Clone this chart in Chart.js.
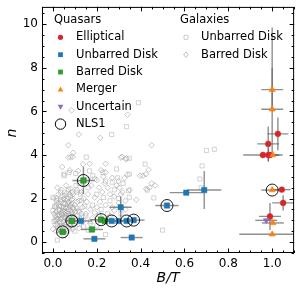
<!DOCTYPE html>
<html><head><meta charset="utf-8">
<script src="https://cdn.jsdelivr.net/npm/chart.js@4.4.0/dist/chart.umd.min.js"></script>
<style>html,body{margin:0;padding:0;background:#fff;}#c{display:block;}</style>
</head><body>
<canvas id="c" width="301" height="291"></canvas>
<script>
// ---- Data ----
const xTicks = [0.0, 0.2, 0.4, 0.6, 0.8, 1.0];
const yTicks = [0, 2, 4, 6, 8, 10];

// Galaxies: unbarred disks (squares)
const galUnbarredX = [0.39,0.335,0.268,0.70,0.736,0.68,0.67,0.676,0.5,0.46,0.42,0.348,0.348,0.228,0.152,0.167,0.05,0.104,0.182,0.119,0.29,0.295,0.43,0.345,0.348,0.02,0.0,0.074,0.051,
 0.01,0.02,0.03,0.04,0.05,0.06,0.07,0.08,0.09,0.1,0.11,0.12,0.13,0.15,0.16,0.18,0.2,0.22,0.24,0.26,0.28,0.3,0.32,0.025,0.035,0.045,0.055,0.065,0.075,0.085,0.095,0.105,0.115,0.125,0.14,0.17,0.19,0.21,0.23,0.25,0.27,0.015,0.04,0.06,0.08,0.1,0.12,0.03,0.05,0.07,0.09,0.11,0.13,0.145,0.0,0.005,0.018,0.24,0.31,0.2,0.16,
 0.008,0.028,0.038,0.048,0.058,0.068,0.078,0.088,0.035,0.065,0.015,0.055];
const galUnbarredY = [6.4,5.3,4.94,4.21,4.26,3.5,2.9,2.5,0.55,2.03,3.58,3.85,3.12,3.2,3.9,3.27,3.12,3.15,3.05,2.7,3.36,2.95,2.39,2.36,2.06,0.09,2.06,3.2,3.05,
 1.2,0.8,1.5,1.1,1.8,0.9,1.3,2.1,1.6,1.1,2.3,1.4,1.9,1.2,2.5,1.7,2.2,1.5,2.8,1.9,2.4,2.0,2.7,0.55,2.3,0.7,1.4,2.0,0.6,1.75,0.85,2.6,1.0,2.2,0.7,0.95,2.9,1.25,2.05,1.3,2.75,1.7,1.35,1.6,1.0,0.5,0.8,0.95,0.3,2.4,1.25,1.55,1.15,1.65,1.45,0.95,1.9,0.35,1.3,0.75,0.55,
 1.65,1.25,0.75,1.6,1.15,1.75,0.85,2.3,1.95,0.5,1.05,2.15];

// Galaxies: barred disks (diamonds)
const galBarredX = [0.085,0.34,0.118,0.216,0.07,0.45,0.315,0.335,0.436,0.424,0.41,0.397,0.326,0.24,0.092,0.08,0.09,0.07,0.137,0.115,0.077,0.042,0.167,0.31,0.333,0.45,0.466,0.303,0.317,0.22,0.23,0.235,0.16,0.38,0.425,0.44,
 0.01,0.015,0.02,0.025,0.03,0.035,0.04,0.045,0.05,0.055,0.06,0.065,0.07,0.075,0.08,0.085,0.09,0.095,0.1,0.105,0.11,0.115,0.12,0.125,0.13,0.135,0.14,0.15,0.155,0.16,0.17,0.175,0.18,0.19,0.2,0.21,0.215,0.225,0.24,0.25,0.26,0.27,0.28,0.29,0.3,0.31,0.33,0.35,0.02,0.03,0.04,0.05,0.06,0.07,0.08,0.09,0.1,0.11,0.12,0.13,0.04,0.06,0.08,0.025,0.01,0.0,0.015,0.045,0.055,0.065,0.075,0.085,0.095,0.035,0.05,0.14,0.17,0.19,0.22,0.26,0.28,0.33,0.005,0.02,0.15,0.2,0.24,0.27,0.3,0.34,
 0.005,0.012,0.022,0.028,0.038,0.048,0.058,0.068,0.078,0.088,0.098,0.018,0.032,0.052,0.062,0.072,0.082,0.092,0.042,0.108];
const galBarredY = [6.05,5.85,4.94,4.79,4.45,4.45,3.92,3.85,3.32,3.12,3.05,3.05,2.94,3.6,4.1,3.9,3.92,3.88,3.58,3.27,3.3,3.45,3.6,3.88,3.8,2.7,2.6,2.5,2.3,3.3,3.0,2.7,2.9,1.95,2.45,2.5,
 1.0,1.4,0.7,1.8,1.2,0.9,1.6,2.1,1.3,0.8,1.9,1.1,1.5,2.2,0.75,1.35,2.0,1.15,1.7,0.95,2.4,1.45,1.9,1.05,2.3,1.6,2.0,1.3,1.85,2.2,1.5,2.6,1.1,2.05,1.6,2.5,1.85,2.3,1.7,2.5,2.2,1.6,2.1,2.6,1.8,2.2,1.9,2.4,1.25,1.65,0.55,2.0,1.25,0.95,1.7,0.6,1.4,1.85,0.65,1.3,2.4,2.6,2.45,2.2,1.6,0.6,0.5,1.45,1.75,1.4,1.2,1.95,1.5,1.05,0.45,1.0,0.85,1.35,1.1,1.2,1.45,1.5,2.0,2.5,2.7,2.85,3.2,2.95,2.8,3.1,
 1.3,0.8,1.05,1.45,1.85,0.95,1.55,0.7,1.65,1.15,0.8,2.0,0.65,1.15,2.25,1.85,1.45,2.2,1.25,1.2];

// Quasars
const ellX = [0.958,0.983,0.99,0.982,1.026,1.044,1.05,0.99];
const ellY = [4.0,4.0,4.0,4.51,4.97,2.41,1.8,1.18];
const ellXerr = [0.09,0.04,0.04,0.05,0.048,0.04,0.05,0.05];
const ellYerr = [0.0,0.3,0.0,0.8,0.75,0.0,0.35,0.62];

const unbX = [0.128,0.309,0.268,0.299,0.336,0.368,0.189,0.359,0.52,0.608,0.69];
const unbY = [0.97,1.6,0.97,0.97,0.97,1.01,0.15,0.21,1.68,2.27,2.39];
const unbXerr = [0.05,0.05,0.05,0.04,0.04,0.05,0.05,0.05,0.053,0.075,0.078];
const unbYerr = [0,0.47,0,0,0,0,0,0,0,0,0.87];

const barX = [0.139,0.086,0.22,0.237,0.178,0.044];
const barY = [2.83,0.97,1.03,0.97,0.58,0.47];
const barXerr = [0.05,0.03,0.05,0.04,0.05,0.02];
const barYerr = [0.62,0,0,0,0,0];

const merX = [1.0,1.0,1.003,1.0,1.003,1.0];
const merY = [7.0,6.1,4.0,2.39,0.88,0.36];
const merXerrLo = [0.05,0.05,0.03,0.05,0.05,0.15];
const merXerrHi = [0.05,0.05,0.03,0.05,0.05,0.12];
const merYerrLo = [1.0,2.1,0,0,0,0];
const merYerrHi = [1.0,3.75,0,0,0,0];

const uncX = [0.973];
const uncY = [1.0];
const uncXerr = [0.05];
const uncYerr = [0];

const nlsX = [0.139,0.086,0.044,0.22,0.268,0.336,0.368,0.52,1.0];
const nlsY = [2.83,0.97,0.47,1.03,0.97,0.97,1.01,1.68,2.39];

// ---- helpers ----
const pts = (xs, ys) => xs.map((x, i) => ({x: x, y: ys[i]}));
const FONT = "'DejaVu Sans', sans-serif";
const RED = '#d62728', BLUE = '#1f77b4', GREEN = '#2ca02c', ORANGE = '#ff7f0e', PURPLE = '#9467bd';
const GALSQ = 'rgba(165,165,165,0.6)';
const GALDI = 'rgba(140,140,140,0.6)';

const errSets = [
  {x: ellX, y: ellY, xl: ellXerr, xh: ellXerr, yl: ellYerr, yh: ellYerr},
  {x: unbX, y: unbY, xl: unbXerr, xh: unbXerr, yl: unbYerr, yh: unbYerr},
  {x: barX, y: barY, xl: barXerr, xh: barXerr, yl: barYerr, yh: barYerr},
  {x: merX, y: merY, xl: merXerrLo, xh: merXerrHi, yl: merYerrLo, yh: merYerrHi},
  {x: uncX, y: uncY, xl: uncXerr, xh: uncXerr, yl: uncYerr, yh: uncYerr}
];

const errorBarPlugin = {
  id: 'errbars',
  afterDatasetDraw(chart, args) {
    if (chart.data.datasets[args.index].label !== 'galUnbarred') return;
    const xs = chart.scales.x, ys = chart.scales.y, ctx = chart.ctx;
    ctx.save();
    ctx.beginPath();
    ctx.rect(chart.chartArea.left, chart.chartArea.top, chart.chartArea.right - chart.chartArea.left, chart.chartArea.bottom - chart.chartArea.top);
    ctx.clip();
    ctx.strokeStyle = 'rgba(105,105,105,0.75)';
    ctx.lineWidth = 1.4;
    errSets.forEach(s => {
      s.x.forEach((x, i) => {
        const y = s.y[i];
        ctx.beginPath();
        if (s.xl[i] || s.xh[i]) {
          ctx.moveTo(xs.getPixelForValue(x - s.xl[i]), ys.getPixelForValue(y));
          ctx.lineTo(xs.getPixelForValue(x + s.xh[i]), ys.getPixelForValue(y));
        }
        if (s.yl[i] || s.yh[i]) {
          ctx.moveTo(xs.getPixelForValue(x), ys.getPixelForValue(y - s.yl[i]));
          ctx.lineTo(xs.getPixelForValue(x), ys.getPixelForValue(y + s.yh[i]));
        }
        ctx.stroke();
      });
    });
    ctx.restore();
  }
};

const framePlugin = {
  id: 'frame',
  afterDraw(chart) {
    const ctx = chart.ctx, a = chart.chartArea, xs = chart.scales.x, ys = chart.scales.y;
    ctx.save();
    ctx.strokeStyle = '#000';
    ctx.lineWidth = 1;
    ctx.strokeRect(a.left + 0.5, a.top + 0.5, a.right - a.left - 1, a.bottom - a.top - 1);
    const tick = (len, val, axis) => {
      ctx.beginPath();
      if (axis === 'x') {
        const p = Math.round(xs.getPixelForValue(val)) + 0.5;
        ctx.moveTo(p, a.bottom); ctx.lineTo(p, a.bottom - len);
        ctx.moveTo(p, a.top); ctx.lineTo(p, a.top + len);
      } else {
        const p = Math.round(ys.getPixelForValue(val)) + 0.5;
        ctx.moveTo(a.left, p); ctx.lineTo(a.left + len, p);
        ctx.moveTo(a.right, p); ctx.lineTo(a.right - len, p);
      }
      ctx.stroke();
    };
    for (let k = -1; k <= 22; k++) { const v = k * 0.05; if (v >= xs.min && v <= xs.max) tick(2.5, v, 'x'); }
    for (let k = -1; k <= 21; k++) { const v = k * 0.5; if (v >= ys.min && v <= ys.max) tick(2.5, v, 'y'); }
    xTicks.forEach(v => tick(4.5, v, 'x'));
    yTicks.forEach(v => tick(4.5, v, 'y'));

    ctx.fillStyle = '#000';
    ctx.font = "italic 14px " + FONT;
    ctx.textAlign = 'center';
    ctx.textBaseline = 'middle';
    ctx.fillText('B/T', (a.left + a.right) / 2, 278);
    ctx.save();
    ctx.translate(12, 133);
    ctx.rotate(-Math.PI / 2);
    ctx.fillText('n', 0, 0);
    ctx.restore();

    const rowsQ = [
      {t: 'Elliptical', s: 'circle', c: RED},
      {t: 'Unbarred Disk', s: 'rect', c: BLUE},
      {t: 'Barred Disk', s: 'rect', c: GREEN},
      {t: 'Merger', s: 'triangle', c: ORANGE},
      {t: 'Uncertain', s: 'tridown', c: PURPLE},
      {t: 'NLS1', s: 'ring', c: '#000'}
    ];
    const rowsG = [
      {t: 'Unbarred Disk', s: 'hrect', c: GALSQ},
      {t: 'Barred Disk', s: 'hdiam', c: GALDI}
    ];
    const dy = 17.35, y0 = 20;
    ctx.font = "11.5px " + FONT;
    ctx.textAlign = 'left';
    ctx.fillStyle = '#000';
    ctx.fillText('Quasars', 54, y0);
    ctx.fillText('Galaxies', 180, y0);
    const marker = (s, c, x, y) => {
      ctx.beginPath();
      ctx.fillStyle = c; ctx.strokeStyle = c;
      if (s === 'circle') { ctx.arc(x, y, 2.6, 0, Math.PI * 2); ctx.fill(); }
      else if (s === 'rect') { ctx.rect(x - 2.4, y - 2.4, 4.8, 4.8); ctx.fill(); }
      else if (s === 'triangle') { ctx.moveTo(x, y - 3); ctx.lineTo(x + 2.8, y + 2); ctx.lineTo(x - 2.8, y + 2); ctx.closePath(); ctx.fill(); }
      else if (s === 'tridown') { ctx.moveTo(x, y + 3); ctx.lineTo(x + 2.8, y - 2); ctx.lineTo(x - 2.8, y - 2); ctx.closePath(); ctx.fill(); }
      else if (s === 'ring') { ctx.lineWidth = 1; ctx.arc(x, y, 5.2, 0, Math.PI * 2); ctx.stroke(); }
      else if (s === 'hrect') { ctx.lineWidth = 0.9; ctx.rect(x - 2, y - 2, 4, 4); ctx.stroke(); }
      else if (s === 'hdiam') { ctx.lineWidth = 0.9; ctx.moveTo(x, y - 2.8); ctx.lineTo(x + 2.3, y); ctx.lineTo(x, y + 2.8); ctx.lineTo(x - 2.3, y); ctx.closePath(); ctx.stroke(); }
    };
    rowsQ.forEach((r, i) => {
      const y = y0 + dy * (i + 1);
      marker(r.s, r.c, 60.5, y);
      ctx.fillStyle = '#000';
      ctx.fillText(r.t, 76, y);
    });
    rowsG.forEach((r, i) => {
      const y = y0 + dy * (i + 1);
      marker(r.s, r.c, 186, y);
      ctx.fillStyle = '#000';
      ctx.fillText(r.t, 201, y);
    });
    ctx.restore();
  }
};

new Chart(document.getElementById('c'), {
  type: 'scatter',
  data: {
    datasets: [
      {label: 'NLS1', data: pts(nlsX, nlsY), pointStyle: 'circle', pointRadius: 6, backgroundColor: 'rgba(0,0,0,0)', borderColor: '#000', borderWidth: 0.9, order: 1},
      {label: 'Uncertain', data: pts(uncX, uncY), pointStyle: 'triangle', rotation: 180, pointRadius: 3.4, backgroundColor: PURPLE, borderColor: PURPLE, borderWidth: 0.5, order: 2},
      {label: 'Merger', data: pts(merX, merY), pointStyle: 'triangle', pointRadius: 3.6, backgroundColor: ORANGE, borderColor: ORANGE, borderWidth: 0.5, order: 3},
      {label: 'Barred', data: pts(barX, barY), pointStyle: 'rect', pointRadius: 3.8, backgroundColor: GREEN, borderColor: '#1e7a1e', borderWidth: 0.6, order: 4},
      {label: 'Unbarred', data: pts(unbX, unbY), pointStyle: 'rect', pointRadius: 3.8, backgroundColor: BLUE, borderColor: BLUE, borderWidth: 0.5, order: 5},
      {label: 'Elliptical', data: pts(ellX, ellY), pointStyle: 'circle', pointRadius: 2.9, backgroundColor: RED, borderColor: RED, borderWidth: 0.5, order: 6},
      {label: 'galUnbarred', data: pts(galUnbarredX, galUnbarredY), pointStyle: 'rect', pointRadius: 2.9, backgroundColor: 'rgba(0,0,0,0)', borderColor: GALSQ, borderWidth: 0.8, order: 10},
      {label: 'galBarred', data: pts(galBarredX, galBarredY), pointStyle: 'rectRot', pointRadius: 2.8, backgroundColor: 'rgba(0,0,0,0)', borderColor: GALDI, borderWidth: 0.8, order: 11}
    ]
  },
  options: {
    responsive: false,
    animation: false,
    layout: {padding: {top: 5, right: 5, left: 0, bottom: 0}},
    plugins: {legend: {display: false}, tooltip: {enabled: false}},
    elements: {point: {hoverRadius: 0}},
    scales: {
      x: {
        type: 'linear', min: -0.05, max: 1.1,
        afterBuildTicks: s => { s.ticks = xTicks.map(v => ({value: v})); },
        afterFit: s => { s.height = 38; s.paddingLeft = 0; s.paddingRight = 0; },
        ticks: {callback: v => v.toFixed(1), font: {family: FONT, size: 12}, color: '#000', padding: 4, maxRotation: 0, autoSkip: false},
        grid: {display: false, drawTicks: false},
        border: {display: false}
      },
      y: {
        type: 'linear', min: -0.5, max: 10.8,
        afterBuildTicks: s => { s.ticks = yTicks.map(v => ({value: v})); },
        afterFit: s => { s.width = 42; s.paddingTop = 0; s.paddingBottom = 0; },
        ticks: {callback: v => String(v), font: {family: FONT, size: 12}, color: '#000', padding: 4, autoSkip: false},
        grid: {display: false, drawTicks: false},
        border: {display: false}
      }
    }
  },
  plugins: [errorBarPlugin, framePlugin]
});
</script>
</body></html>
